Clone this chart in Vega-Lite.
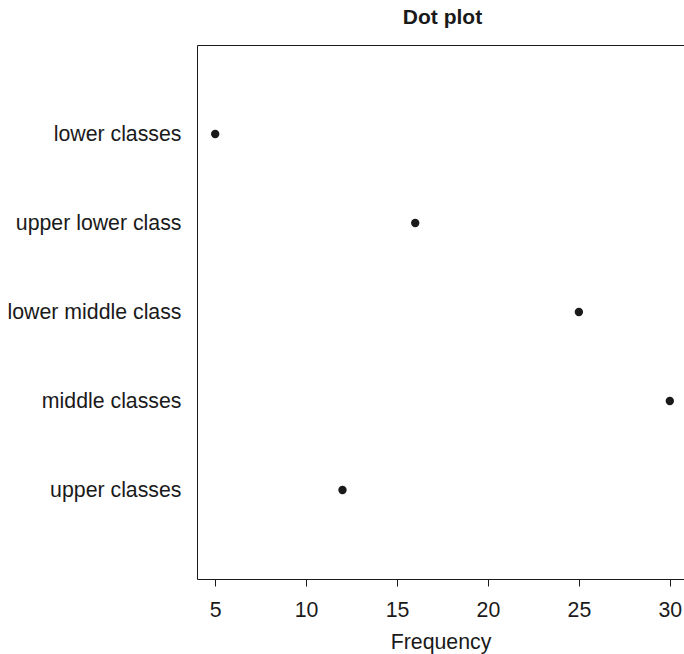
{
  "$schema": "https://vega.github.io/schema/vega-lite/v6.json",
  "width": 487,
  "height": 534,
  "autosize": {"type": "none"},
  "padding": {"left": 197, "top": 45, "right": 0, "bottom": 75},
  "title": {
    "text": "Dot plot",
    "font": "Liberation Sans",
    "fontSize": 21,
    "fontWeight": "bold",
    "color": "#1a1a1a",
    "anchor": "middle",
    "baseline": "alphabetic",
    "frame": "group",
    "offset": 0,
    "dx": 2
  },
  "data": {
    "values": [
      {"class": "lower classes", "freq": 5},
      {"class": "upper lower class", "freq": 16},
      {"class": "lower middle class", "freq": 25},
      {"class": "middle classes", "freq": 30},
      {"class": "upper classes", "freq": 12}
    ]
  },
  "layer": [
    {
      "mark": {"type": "point", "filled": true, "size": 70, "color": "#1a1a1a", "opacity": 1},
      "encoding": {
        "x": {
          "field": "freq",
          "type": "quantitative",
          "scale": {"domain": [4, 30.78], "nice": false, "zero": false},
          "axis": {
            "orient": "bottom",
            "values": [5, 10, 15, 20, 25, 30],
            "title": "Frequency",
            "domain": true,
            "domainColor": "#1a1a1a",
            "tickColor": "#1a1a1a",
            "tickSize": 7,
            "labelPadding": 13,
            "labelFontSize": 21.3,
            "labelFont": "Liberation Sans",
            "labelColor": "#1a1a1a",
            "titleFont": "Liberation Sans",
            "titleFontSize": 21.3,
            "titleFontWeight": "normal",
            "titleColor": "#1a1a1a",
            "titlePadding": 11
          }
        },
        "y": {
          "field": "class",
          "type": "nominal",
          "sort": null,
          "scale": {"type": "point", "padding": 1},
          "axis": {
            "title": null,
            "ticks": false,
            "domain": true,
            "domainColor": "#1a1a1a",
            "labelPadding": 16,
            "labelFontSize": 21.3,
            "labelFont": "Liberation Sans",
            "labelColor": "#1a1a1a"
          }
        }
      }
    },
    {
      "mark": {"type": "point", "opacity": 0},
      "encoding": {
        "x": {
          "field": "freq",
          "type": "quantitative",
          "axis": {
            "orient": "top",
            "labels": false,
            "ticks": false,
            "title": null,
            "domain": true,
            "domainColor": "#1a1a1a"
          }
        }
      }
    }
  ],
  "resolve": {"axis": {"x": "independent"}},
  "config": {
    "view": {"stroke": null},
    "axis": {"grid": false, "domainWidth": 1, "tickWidth": 1}
  }
}
